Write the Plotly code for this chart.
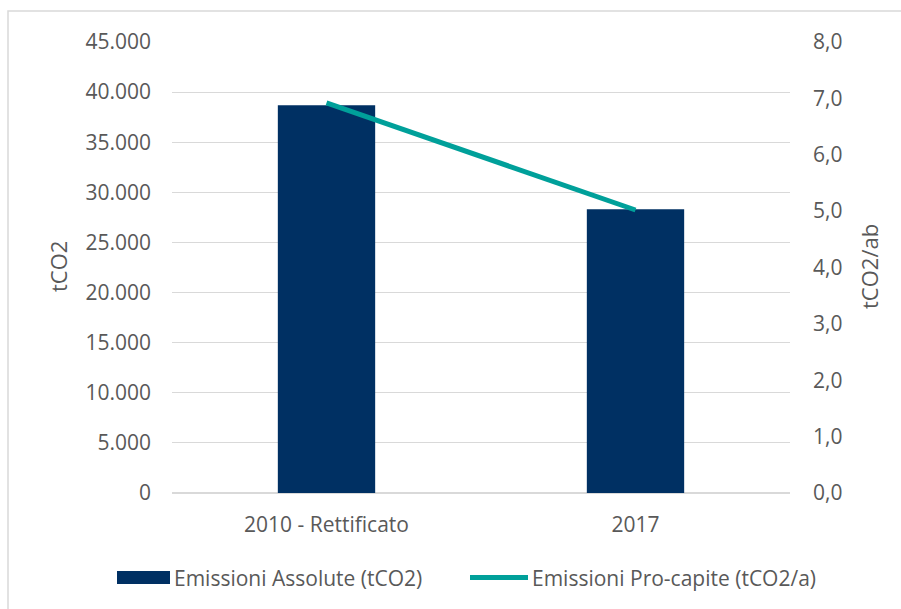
import plotly.graph_objects as go

# Emissions data
categories = ["2010 - Rettificato", "2017"]
absolute_tco2 = [38700, 28300]
per_capita_tco2 = [6.92, 5.02]

left_ticks = list(range(0, 45001, 5000))
right_ticks = list(range(0, 9))

series_names = ["Emissioni Assolute (tCO2)", "Emissioni Pro-capite (tCO2/a)"]

NAVY = "#003063"
TEAL = "#00A09A"
GREY_TEXT = "#595959"
GRID = "#D9D9D9"
FONT = "Open Sans"

fig = go.Figure()
fig.add_trace(go.Bar(
    x=categories, y=absolute_tco2, name=series_names[0],
    marker=dict(color=NAVY, line=dict(width=0)), width=0.315,
    yaxis="y", showlegend=False,
))
fig.add_trace(go.Scatter(
    x=categories, y=per_capita_tco2, name=series_names[1],
    mode="lines", line=dict(color=TEAL, width=5),
    yaxis="y2", showlegend=False,
))

# plot area in pixels: x 172..790, y 42..493
L, R, T, B = 172, 790, 42, 493
W, H = R - L, B - T


def px(x):
    return (x - L) / W


def py(y):
    return (B - y) / H


shapes = [
    # outer chart border
    dict(type="rect", xref="paper", yref="paper",
         x0=px(8), x1=px(920), y0=py(630), y1=py(11),
         line=dict(color=GRID, width=1.5), fillcolor="rgba(0,0,0,0)", layer="below"),
    # legend keys
    dict(type="rect", xref="paper", yref="paper",
         x0=px(117), x1=px(170), y0=py(584), y1=py(571),
         line=dict(width=0), fillcolor=NAVY),
    dict(type="line", xref="paper", yref="paper",
         x0=px(470), x1=px(528), y0=py(577.5), y1=py(577.5),
         line=dict(color=TEAL, width=5)),
]

annotations = [
    dict(text="tCO2", xref="paper", yref="paper", x=px(58), y=py(267),
         textangle=-90, showarrow=False, xanchor="center", yanchor="middle",
         font=dict(family=FONT, size=22, color=GREY_TEXT)),
    dict(text="tCO2/ab", xref="paper", yref="paper", x=px(869), y=py(267),
         textangle=-90, showarrow=False, xanchor="center", yanchor="middle",
         font=dict(family=FONT, size=22, color=GREY_TEXT)),
    dict(text=series_names[0], xref="paper", yref="paper", x=px(172), y=py(577.5),
         showarrow=False, xanchor="left", yanchor="middle",
         font=dict(family=FONT, size=21, color=GREY_TEXT)),
    dict(text=series_names[1], xref="paper", yref="paper", x=px(530), y=py(577.5),
         showarrow=False, xanchor="left", yanchor="middle",
         font=dict(family=FONT, size=21, color=GREY_TEXT)),
]

fig.update_layout(
    width=901, height=609,
    margin=dict(l=L, r=901 - R, t=T, b=609 - B, pad=0),
    paper_bgcolor="white", plot_bgcolor="white",
    separators=",.",
    font=dict(family=FONT, size=21, color=GREY_TEXT),
    bargap=0.5,
    xaxis=dict(
        type="category", showgrid=False, showline=False, zeroline=False,
        ticks="", ticklabelstandoff=17,
        tickfont=dict(family=FONT, size=21, color=GREY_TEXT),
    ),
    yaxis=dict(
        range=[0, 45000], tickvals=left_ticks, tickformat=",.0f",
        showgrid=True, gridcolor=GRID, gridwidth=1,
        zeroline=True, zerolinecolor=GRID, zerolinewidth=1.5,
        showline=False, ticks="", ticklabelstandoff=20,
        tickfont=dict(family=FONT, size=21, color=GREY_TEXT),
    ),
    yaxis2=dict(
        range=[0, 8], tickvals=right_ticks, tickformat=".1f",
        overlaying="y", side="right", showgrid=False, zeroline=False,
        showline=False, ticks="", ticklabelstandoff=22,
        tickfont=dict(family=FONT, size=21, color=GREY_TEXT),
    ),
    shapes=shapes,
    annotations=annotations,
    showlegend=False,
)

fig.write_html("out.html")
